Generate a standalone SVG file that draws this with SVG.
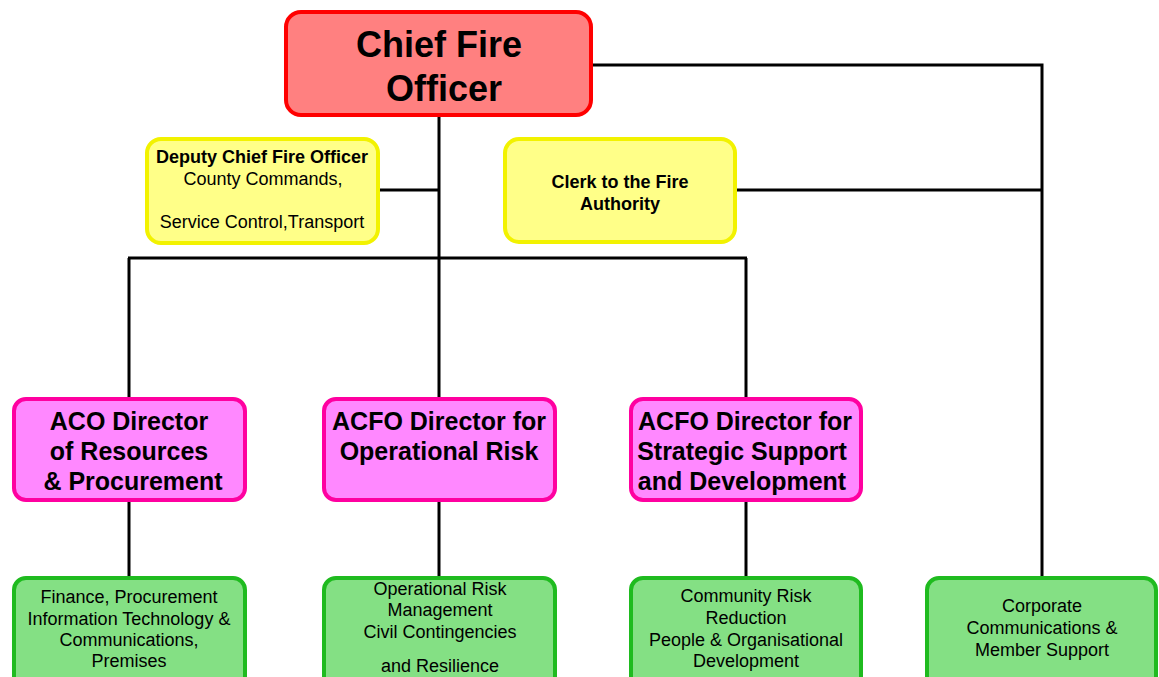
<svg xmlns="http://www.w3.org/2000/svg" width="1159" height="677" viewBox="0 0 1159 677">
  <style>
    .box { stroke-width: 4; }
    .red { fill: #ff8080; stroke: #ff0000; }
    .yellow { fill: #ffff88; stroke: #f2f200; }
    .pink { fill: #ff88ff; stroke: #ff00a0; }
    .green { fill: #84e084; stroke: #1fbb1f; }
    text { font-family: "Liberation Sans", Arial, sans-serif; fill: #000; text-anchor: middle; }
    .t-chief { font-size: 36px; font-weight: bold; }
    .t-dir { font-size: 25px; font-weight: bold; }
    .t-bold { font-size: 18px; font-weight: bold; }
    .t-body { font-size: 18px; }
    .conn { stroke: #000; stroke-width: 3; fill: none; }
  </style>

  <!-- connectors -->
  <g id="connectors">
    <line class="conn" x1="439" y1="115" x2="439" y2="399"/>
    <line class="conn" x1="378" y1="190" x2="439" y2="190"/>
    <line class="conn" x1="128" y1="258" x2="747" y2="258"/>
    <line class="conn" x1="129" y1="258" x2="129" y2="399"/>
    <line class="conn" x1="746" y1="258" x2="746" y2="399"/>
    <polyline class="conn" points="591,65 1042,65 1042,578"/>
    <line class="conn" x1="735" y1="190" x2="1042" y2="190"/>
    <line class="conn" x1="129" y1="500" x2="129" y2="578"/>
    <line class="conn" x1="439" y1="500" x2="439" y2="578"/>
    <line class="conn" x1="746" y1="500" x2="746" y2="578"/>
  </g>

  <g id="chief-fire-officer">
    <rect class="box red" x="286" y="12" width="305" height="103" rx="15"/>
    <text class="t-chief" x="439" y="57">Chief Fire</text>
    <text class="t-chief" x="444" y="101">Officer</text>
  </g>

  <g id="deputy-chief">
    <rect class="box yellow" x="147" y="139" width="231" height="104" rx="14"/>
    <text class="t-bold" x="262" y="163">Deputy Chief Fire Officer</text>
    <text class="t-body" x="263" y="185">County Commands,</text>
    <text class="t-body" x="262" y="228">Service Control,Transport</text>
  </g>

  <g id="clerk">
    <rect class="box yellow" x="505" y="139" width="230" height="103" rx="14"/>
    <text class="t-bold" x="620" y="188">Clerk to the Fire</text>
    <text class="t-bold" x="620" y="210">Authority</text>
  </g>

  <g id="aco-resources">
    <rect class="box pink" x="14" y="399" width="231" height="101" rx="12"/>
    <text class="t-dir" x="129" y="430">ACO Director</text>
    <text class="t-dir" x="129" y="460">of Resources</text>
    <text class="t-dir" x="133" y="490">&amp; Procurement</text>
  </g>

  <g id="acfo-operational">
    <rect class="box pink" x="324" y="399" width="231" height="101" rx="12"/>
    <text class="t-dir" x="439" y="430">ACFO Director for</text>
    <text class="t-dir" x="439" y="460">Operational Risk</text>
  </g>

  <g id="acfo-strategic">
    <rect class="box pink" x="631" y="399" width="230" height="101" rx="12"/>
    <text class="t-dir" x="745" y="430">ACFO Director for</text>
    <text class="t-dir" x="742" y="460">Strategic Support</text>
    <text class="t-dir" x="742" y="490">and Development</text>
  </g>

  <g id="resources-services">
    <rect class="box green" x="14" y="578" width="231" height="115" rx="12"/>
    <text class="t-body" x="129" y="603">Finance, Procurement</text>
    <text class="t-body" x="129" y="625">Information Technology &amp;</text>
    <text class="t-body" x="129" y="646">Communications,</text>
    <text class="t-body" x="129" y="667">Premises</text>
  </g>

  <g id="operational-services">
    <rect class="box green" x="324" y="578" width="231" height="115" rx="12"/>
    <text class="t-body" x="440" y="595">Operational Risk</text>
    <text class="t-body" x="440" y="616">Management</text>
    <text class="t-body" x="440" y="638">Civil Contingencies</text>
    <text class="t-body" x="440" y="672">and Resilience</text>
  </g>

  <g id="strategic-services">
    <rect class="box green" x="631" y="578" width="230" height="115" rx="12"/>
    <text class="t-body" x="746" y="602">Community Risk</text>
    <text class="t-body" x="746" y="624">Reduction</text>
    <text class="t-body" x="746" y="646">People &amp; Organisational</text>
    <text class="t-body" x="746" y="667">Development</text>
  </g>

  <g id="corporate-communications">
    <rect class="box green" x="927" y="578" width="229" height="115" rx="12"/>
    <text class="t-body" x="1042" y="612">Corporate</text>
    <text class="t-body" x="1042" y="634">Communications &amp;</text>
    <text class="t-body" x="1042" y="656">Member Support</text>
  </g>
</svg>
